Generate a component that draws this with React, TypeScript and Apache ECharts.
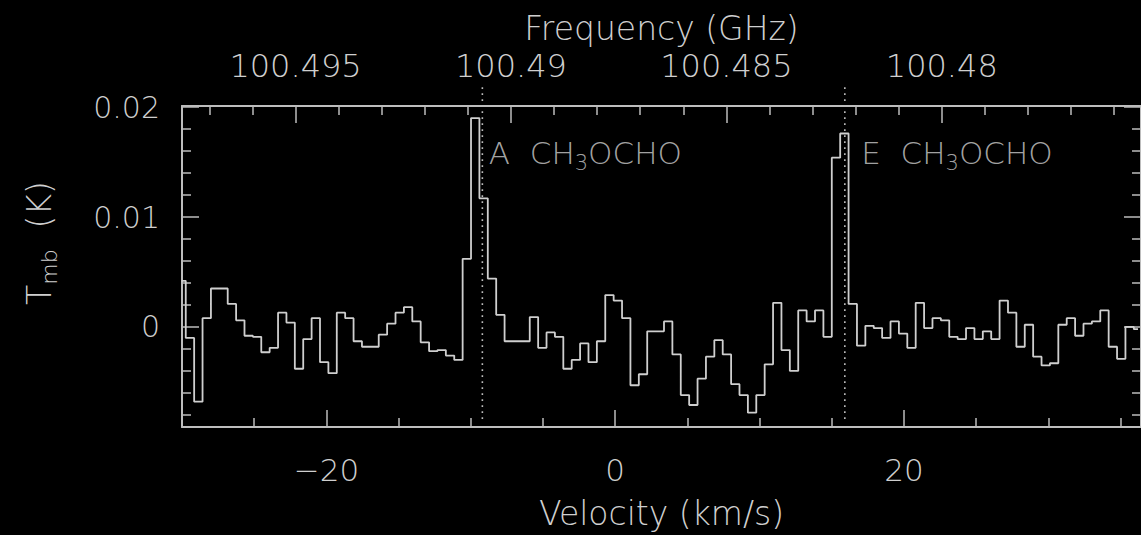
import { useEffect, useRef } from "react";
import * as echarts from "echarts";

// Spectral grid: centre of the first channel and channel width (km/s)
const FIRST_CHANNEL_V = -30.03;
const CHANNEL_WIDTH = 0.581;

// Main-beam brightness temperature per channel (K)
const TMB = [
  0.0042, -0.001, -0.0068, 0.0008, 0.0035, 0.0035, 0.0021, 0.0006, -0.0008, -0.0009,
  -0.0023, -0.0019, 0.0013, 0.0004, -0.0038, -0.0011, 0.0008, -0.0032, -0.0042, 0.0013,
  0.0008, -0.0013, -0.0018, -0.0018, -0.0007, 0.0003, 0.0013, 0.0018, 0.0005, -0.0014,
  -0.0022, -0.0021, -0.0026, -0.003, 0.0062, 0.019, 0.0117, 0.0044, 0.0011, -0.0013,
  -0.0013, -0.0013, 0.0009, -0.0019, -0.0005, -0.0009, -0.0038, -0.003, -0.0015, -0.0032,
  -0.0013, 0.0029, 0.0024, 0.0008, -0.0053, -0.0043, -0.0004, -0.0004, 0.0005, -0.0025,
  -0.0062, -0.0071, -0.0047, -0.0027, -0.0012, -0.0025, -0.0052, -0.0062, -0.0078, -0.0062,
  -0.0034, 0.0022, -0.0021, -0.004, 0.0015, 0.0005, 0.0015, -0.0009, 0.0154, 0.0176,
  0.0021, -0.0017, 0.0001, -0.0001, -0.001, 0.0005, -0.0006, -0.0019, 0.0022, -0.0001,
  0.0008, 0.0006, -0.0009, -0.0011, -0.0001, -0.0011, -0.0004, -0.0011, 0.0024, 0.0013,
  -0.0018, 0.0002, -0.0027, -0.0035, -0.0033, 0.0002, 0.0008, -0.0008, 0.0003, 0.0005,
  0.0015, -0.0018, -0.0029, 0.0, -0.0002,
];

// Axis ranges
const V_MIN = -30;
const V_MAX = 36.41;
const T_MIN = -0.0091;
const T_MAX = 0.0201;

// Tick values
const VELOCITY_MAJOR = [-20, 0, 20];
const VELOCITY_MINOR = [-25, -15, -10, -5, 5, 10, 15, 25, 30, 35];
const TMB_MAJOR = [0, 0.01, 0.02];
const TMB_MINOR = [-0.008, -0.006, -0.004, -0.002, 0.002, 0.004, 0.006, 0.008, 0.012, 0.014, 0.016, 0.018];
const FREQ_MAJOR = [100.495, 100.49, 100.485, 100.48];
const FREQ_MINOR = [
  100.497, 100.496, 100.494, 100.493, 100.492, 100.491, 100.489, 100.488, 100.487,
  100.486, 100.484, 100.483, 100.482, 100.481, 100.479, 100.478, 100.477, 100.476,
];

// Sky frequency at v = 0 (GHz) and speed of light (km/s)
const REST_FREQ = 100.48758;
const C_KMS = 299792.458;

// Transition markers: label, velocity (km/s), label height (K)
const LINE_NAMES = ["A", "E"];
const LINE_VELOCITIES = [-9.2, 15.9];
const LINE_LABEL_T = [0.0158, 0.0158];

const FG = "#cfcfcf";
const FRAME = "#bdbdbd";
const FONT = "DejaVu Sans";

const freqToV = (f: number) => (C_KMS * (REST_FREQ - f)) / REST_FREQ;
const vToFreq = (v: number) => REST_FREQ - (v * REST_FREQ) / C_KMS;

export default function App() {
  const ref = useRef<HTMLDivElement>(null);

  useEffect(() => {
    if (!ref.current) return;
    const chart = echarts.init(ref.current, undefined, { renderer: "svg" });

    const spectrum = TMB.map((t, i) => [FIRST_CHANNEL_V + i * CHANNEL_WIDTH, t]);

    const tickAxisBase = {
      min: V_MIN,
      max: V_MAX,
      type: "value" as const,
      splitLine: { show: false },
    };

    const rich = {
      n: { fontFamily: FONT, fontSize: 31, color: FG, fontWeight: 200 },
      s: { fontFamily: FONT, fontSize: 21, color: FG, fontWeight: 200, padding: [20, 0, 0, 0] },
    };

    chart.setOption({
      animation: false,
      backgroundColor: "#000",
      grid: { left: 182, top: 106, width: 959, height: 331, containLabel: false },
      xAxis: [
        {
          ...tickAxisBase,
          position: "bottom",
          axisLine: { show: true, onZero: false, lineStyle: { color: FRAME, width: 2 } },
          axisTick: { show: true, inside: true, length: 17, customValues: VELOCITY_MAJOR, lineStyle: { color: FRAME, width: 1.5 } },
          axisLabel: {
            show: true,
            customValues: VELOCITY_MAJOR,
            margin: 27,
            color: FG,
            fontFamily: FONT,
            fontWeight: 200,
            fontSize: 31,
            formatter: (v: number) => (v < 0 ? "\u2212" + Math.abs(v) : String(v)),
          },
          name: "Velocity (km/s)",
          nameLocation: "middle",
          nameGap: 70,
          nameTextStyle: { color: FG, fontFamily: FONT, fontWeight: 200, fontSize: 33 },
        },
        {
          ...tickAxisBase,
          position: "bottom",
          axisLine: { show: false, onZero: false },
          axisTick: { show: true, inside: true, length: 9, customValues: VELOCITY_MINOR, lineStyle: { color: FRAME, width: 1.5 } },
          axisLabel: { show: false },
        },
        {
          ...tickAxisBase,
          position: "top",
          axisLine: { show: true, onZero: false, lineStyle: { color: FRAME, width: 2 } },
          axisTick: { show: true, inside: true, length: 17, customValues: FREQ_MAJOR.map(freqToV), lineStyle: { color: FRAME, width: 1.5 } },
          axisLabel: {
            show: true,
            customValues: FREQ_MAJOR.map(freqToV),
            margin: 24,
            color: FG,
            fontFamily: FONT,
            fontWeight: 200,
            fontSize: 32,
            formatter: (v: number) => String(Number(vToFreq(v).toFixed(3))),
          },
          name: "Frequency (GHz)",
          nameLocation: "middle",
          nameGap: 57,
          nameTextStyle: { color: FG, fontFamily: FONT, fontWeight: 200, fontSize: 33 },
        },
        {
          ...tickAxisBase,
          position: "top",
          axisLine: { show: false, onZero: false },
          axisTick: { show: true, inside: true, length: 9, customValues: FREQ_MINOR.map(freqToV), lineStyle: { color: FRAME, width: 1.5 } },
          axisLabel: { show: false },
        },
      ],
      yAxis: [
        {
          type: "value",
          min: T_MIN,
          max: T_MAX,
          position: "left",
          splitLine: { show: false },
          axisLine: { show: true, onZero: false, lineStyle: { color: FRAME, width: 2 } },
          axisTick: { show: true, inside: true, length: 17, customValues: TMB_MAJOR, lineStyle: { color: FRAME, width: 1.5 } },
          axisLabel: {
            show: true,
            customValues: TMB_MAJOR,
            margin: 22,
            color: FG,
            fontFamily: FONT,
            fontWeight: 200,
            fontSize: 30,
            formatter: (v: number) => String(v),
          },
        },
        {
          type: "value",
          min: T_MIN,
          max: T_MAX,
          position: "left",
          splitLine: { show: false },
          axisLine: { show: false, onZero: false },
          axisTick: { show: true, inside: true, length: 9, customValues: TMB_MINOR, lineStyle: { color: FRAME, width: 1.5 } },
          axisLabel: { show: false },
        },
        {
          type: "value",
          min: T_MIN,
          max: T_MAX,
          position: "right",
          splitLine: { show: false },
          axisLine: { show: true, onZero: false, lineStyle: { color: FRAME, width: 2 } },
          axisTick: { show: true, inside: true, length: 17, customValues: TMB_MAJOR, lineStyle: { color: FRAME, width: 1.5 } },
          axisLabel: { show: false },
        },
        {
          type: "value",
          min: T_MIN,
          max: T_MAX,
          position: "right",
          splitLine: { show: false },
          axisLine: { show: false, onZero: false },
          axisTick: { show: true, inside: true, length: 9, customValues: TMB_MINOR, lineStyle: { color: FRAME, width: 1.5 } },
          axisLabel: { show: false },
        },
      ],
      series: [
        {
          type: "line",
          name: "spectrum",
          data: spectrum,
          step: "middle",
          symbol: "none",
          xAxisIndex: 0,
          yAxisIndex: 0,
          lineStyle: { color: FG, width: 1.8 },
          silent: true,
        },
        ...LINE_VELOCITIES.map((v, i) => ({
          type: "line",
          name: "marker " + LINE_NAMES[i],
          data: [
            [v, 0.0218],
            [v, -0.0085],
          ],
          clip: false,
          symbol: "none",
          xAxisIndex: 0,
          yAxisIndex: 0,
          lineStyle: { color: FRAME, width: 1.6, type: [1.6, 4.4] },
          silent: true,
        })),
        {
          type: "scatter",
          name: "transitions",
          xAxisIndex: 0,
          yAxisIndex: 0,
          symbolSize: 1,
          itemStyle: { color: "rgba(0,0,0,0)" },
          silent: true,
          data: LINE_VELOCITIES.map((v, i) => ({
            value: [v, LINE_LABEL_T[i]],
            label: {
              show: true,
              position: "right",
              distance: 0,
              offset: [i === 0 ? 6 : 16, 0],
              formatter: `{n|${LINE_NAMES[i]}  CH}{s|3}{n|OCHO}`,
              rich,
            },
          })),
        },
      ],
      graphic: [
        {
          type: "text",
          x: 39,
          y: 243,
          rotation: Math.PI / 2,
          style: {
            text: "{t|T}{s|mb}{t|  (K)}",
            align: "center",
            verticalAlign: "middle",
            rich: {
              t: { fontFamily: FONT, fontSize: 33, fill: FG, fontWeight: 200 },
              s: { fontFamily: FONT, fontSize: 22, fill: FG, fontWeight: 200, padding: [20, 0, 0, 0] },
            },
          },
        },
      ],
    });

    return () => chart.dispose();
  }, []);

  return (
    <div
      ref={ref}
      style={{ position: "fixed", left: 0, top: 0, width: 1141, height: 535, background: "#000" }}
    />
  );
}
